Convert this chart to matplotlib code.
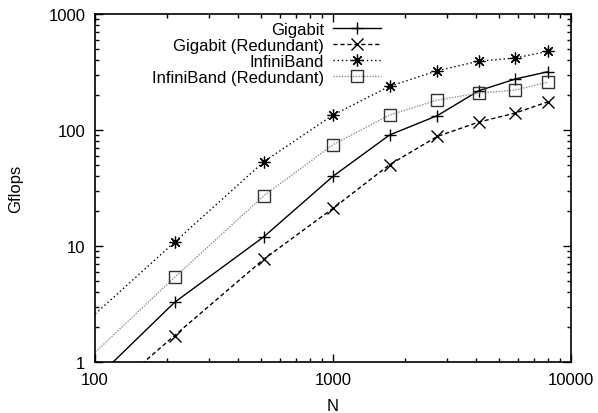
import matplotlib
matplotlib.use("Agg")
import matplotlib.pyplot as plt
from matplotlib.ticker import LogLocator, FixedLocator, NullFormatter

plt.rcParams['font.family'] = ['Liberation Sans', 'DejaVu Sans']

# problem sizes (N = k^3); 64 lies left of the visible range, lines run into the frame from it
n_vals = [64, 216, 512, 1000, 1728, 2744, 4096, 5832, 8000]

gigabit = [0.29, 3.27, 12.0, 39.9, 90.6, 133, 218, 275, 318]
gigabit_red = [0.195, 1.69, 7.7, 21.1, 50.2, 88, 117, 140, 175]
infiniband = [1.13, 10.8, 53.3, 134.6, 238, 324, 392, 418, 477]
infiniband_red = [0.51, 5.37, 27.1, 74.7, 134.6, 181, 208, 221, 258]

labels = ["Gigabit", "Gigabit (Redundant)", "InfiniBand", "InfiniBand (Redundant)"]

fig = plt.figure(figsize=(5.98, 4.14), dpi=100)
ax = fig.add_axes([95 / 598, 1 - 363 / 414, 476 / 598, 348 / 414])

ax.plot(n_vals, gigabit, color='black', lw=1, linestyle='-',
        marker='+', markersize=9, markeredgewidth=1, label=labels[0])
ax.plot(n_vals, gigabit_red, color='black', lw=1, linestyle=(0, (3, 2)),
        marker='x', markersize=8, markeredgewidth=1, label=labels[1])
ax.plot(n_vals, infiniband, color='black', lw=1, linestyle=(0, (1, 2)),
        marker=(8, 2, 0), markersize=8.5, markeredgewidth=0.9, label=labels[2])
ax.plot(n_vals, infiniband_red, color='#909090', lw=1, linestyle=(0, (1, 1)),
        marker='s', markersize=8.5, markerfacecolor='none', markeredgecolor='#333333',
        markeredgewidth=1, label=labels[3])

ax.set_xscale('log')
ax.set_yscale('log')
ax.set_xlim(100, 10000)
ax.set_ylim(1, 1000)

ax.xaxis.set_major_locator(FixedLocator([100, 1000, 10000]))
ax.yaxis.set_major_locator(FixedLocator([1, 10, 100, 1000]))
ax.set_xticklabels(["100", "1000", "10000"])
ax.set_yticklabels(["1", "10", "100", "1000"])
ax.xaxis.set_minor_locator(LogLocator(base=10, subs=range(2, 10)))
ax.yaxis.set_minor_locator(LogLocator(base=10, subs=range(2, 10)))
ax.xaxis.set_minor_formatter(NullFormatter())
ax.yaxis.set_minor_formatter(NullFormatter())

ax.tick_params(which='both', direction='in', top=True, right=True, labelsize=12, width=1)
ax.tick_params(which='major', length=6)
ax.tick_params(which='minor', length=3)
ax.tick_params(axis='x', which='major', pad=7)
ax.tick_params(axis='y', which='major', pad=7)

for s in ax.spines.values():
    s.set_linewidth(1.2)

ax.set_xlabel("N", fontsize=12, labelpad=8)
ax.set_ylabel("Gflops", fontsize=12, labelpad=18)

# gnuplot-style key: right-aligned text, line sample on the right
leg = ax.legend(loc='upper right', bbox_to_anchor=(381 / 598, 1 - 23 / 414),
                bbox_transform=fig.transFigure, frameon=False,
                fontsize=12, markerfirst=False, handlelength=2.9, handletextpad=0.5,
                labelspacing=0.05, borderaxespad=0, borderpad=0)

fig.savefig("out.png", dpi=100)
